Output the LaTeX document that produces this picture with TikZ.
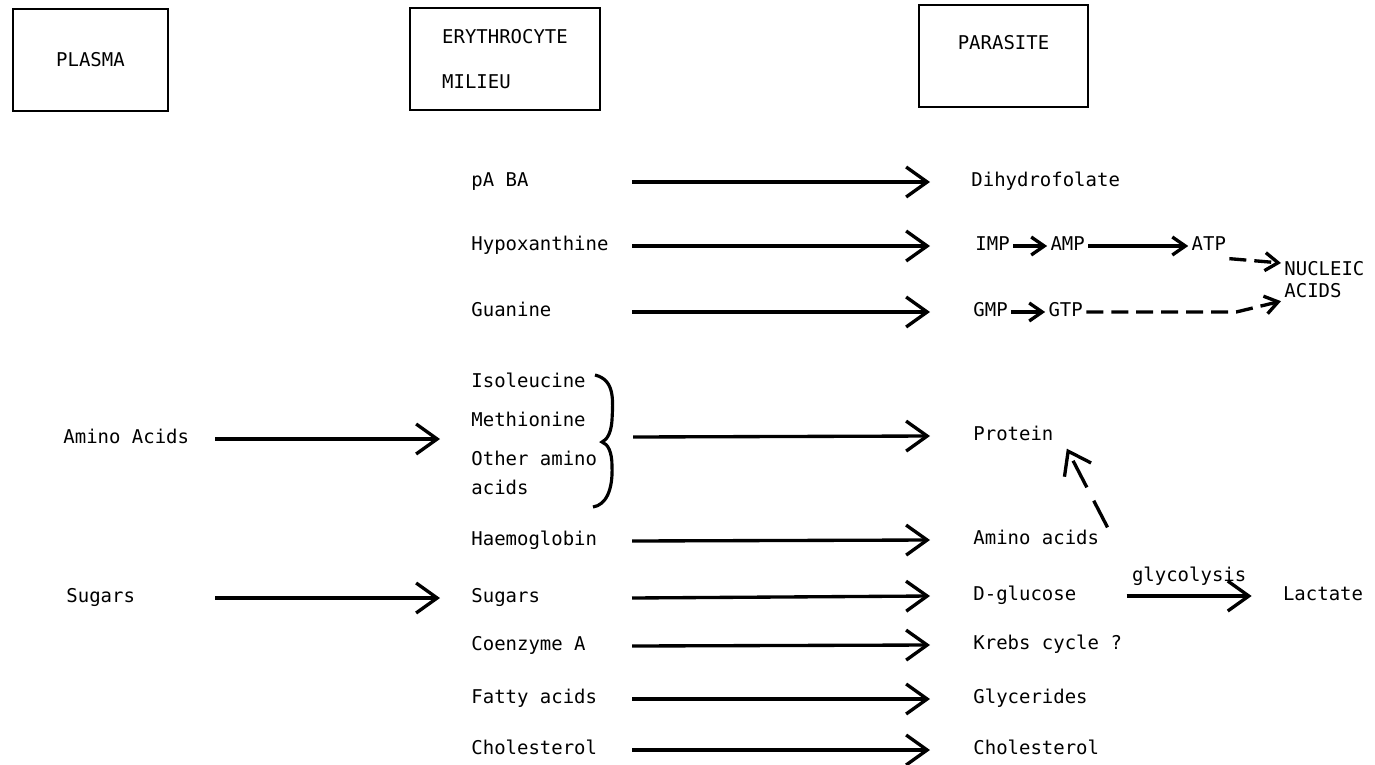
\documentclass[tikz,border=0pt]{standalone}
\usepackage{fontspec}
\setmainfont{DejaVu Sans Mono}
\usetikzlibrary{positioning,arrows.meta}

\begin{document}
\begin{tikzpicture}[x=0.02cm, y=-0.02cm, ->, >={Straight Barb[length=4.2mm,width=6mm]}, line width=1.9pt,
	txt/.style={anchor=west, inner sep=1pt, text height=8pt, text depth=2.5pt, font=\fontsize{10.8pt}{12.5pt}\selectfont},
	box/.style={draw, line width=1.6pt, minimum height=2.04cm, font=\fontsize{10.8pt}{12.5pt}\selectfont},
	small/.style={>={Straight Barb[length=2.6mm,width=3.6mm]}},
	broken/.style={dash pattern=on 0.34cm off 0.16cm},
	gapped/.style={dash pattern=on 0.6cm off 0.3cm}]
	\useasboundingbox[-] (0,0) rectangle (1375,764);
	
	\node[box, minimum width=3.1cm] (A) at (90.5,60) {PLASMA};
	\node[box, minimum width=3.8cm, align=left] (B) at (505,59) {ERYTHROCYTE\\[13pt]MILIEU};
	\node[box, minimum width=3.38cm, text depth=15pt] (C) at (1003.5,56) {PARASITE};
	
	\node[txt] (A1) at (60,439) {Amino Acids};
	\node[txt] (A2) at (63,598) {Sugars};
	
	\node[txt] (B1) at (468,182) {pA BA};
	\node[txt] (B2) at (468,246) {Hypoxanthine};
	\node[txt] (B3) at (468,312) {Guanine};
	\node[txt] (B4) at (468,383) {Isoleucine};
	\node[txt] (B5) at (468,422) {Methionine};
	\node[txt] (B6) at (468,461) {Other amino};
	\node[txt] (B7) at (468,490) {acids};
	\node[txt] (B8) at (468,541) {Haemoglobin};
	\node[txt] (B9) at (468,598) {Sugars};
	\node[txt] (B10) at (468,646) {Coenzyme A};
	\node[txt] (B11) at (468,699) {Fatty acids};
	\node[txt] (B12) at (468,750) {Cholesterol};
	
	\node[txt] (C1) at (968,182) {Dihydrofolate};
	\node[txt] (C2) at (972,246) {IMP};
	\node[txt] (C3) [right=0.68cm of C2] {AMP};
	\node[txt] (C4) [right=2cm of C3] {ATP};
	\node[align=left, inner sep=1pt, anchor=north west, font=\fontsize{10.8pt}{12.5pt}\selectfont] (C5) at (1281,258) {NUCLEIC\\ACIDS};
	\node[txt] (C6) at (970,312) {GMP};
	\node[txt] (C7) [right=0.68cm of C6] {GTP};
	\node[txt] (C8) at (970,436) {Protein};
	\node[txt] (C9) at (970,540) {Amino acids};
	\node[txt] (C10) at (970,596) {D-glucose};
	\node[txt] (C11) [right=4cm of C10] {Lactate};
	\node[txt] (C12) at (970,645) {Krebs cycle ?};
	\node[txt] (C13) at (970,699) {Glycerides};
	\node[txt] (C14) at (970,750) {Cholesterol};
	
	\coordinate (u) at (215,0);
	\coordinate (v) at (440,0);
	\coordinate (s) at (632,0);
	\coordinate (t) at (930,0);
	\coordinate (grp) at (440,439);
	\coordinate (br) at (633,437);
	
	\draw[-, line width=1.8pt] (595,375) .. controls (615,380) and (613,400) .. (612,420) .. controls (611,435) and (606,440) .. (602,442) .. controls (608,444) and (612,452) .. (612,466) .. controls (613,490) and (606,505) .. (593,507);
	
	\draw (A1.east -| u) -- (grp);
	\draw (A2.east -| u) -- (B9.west -| v);
	
	\draw (B1.east -| s) -- (C1.west -| t);
	\draw (B2.east -| s) -- (C2.west -| t);
	\draw (B3.east -| s) -- (C6.west -| t);
	\draw (br) -- (C8.west -| t);
	\draw (B8.east -| s) -- (C9.west -| t);
	\draw (B9.east -| s) -- (C10.west -| t);
	\draw (B10.east -| s) -- (C12.west -| t);
	\draw (B11.east -| s) -- (C13.west -| t);
	\draw (B12.east -| s) -- (C14.west -| t);
	
	\draw[small] (C2) -- (C3);
	\draw[small] (C3) -- (C4);
	\draw[small, broken] (C4.south east) -- ([yshift=-0.1cm]C5.north west);
	\draw[small] (C6) -- (C7);
	\draw[small, broken] (C7.east) -- ++(150,0) -- (C5.south west);
	\draw[gapped] ([xshift=0.1cm]C9.north east) -- ([xshift=0.2cm]C8.south east);
	\draw ([xshift=0.94cm]C10.east) -- ([xshift=-0.56cm]C11.west) node[txt, midway, above=4pt] {glycolysis};
	
\end{tikzpicture}
\end{document}
